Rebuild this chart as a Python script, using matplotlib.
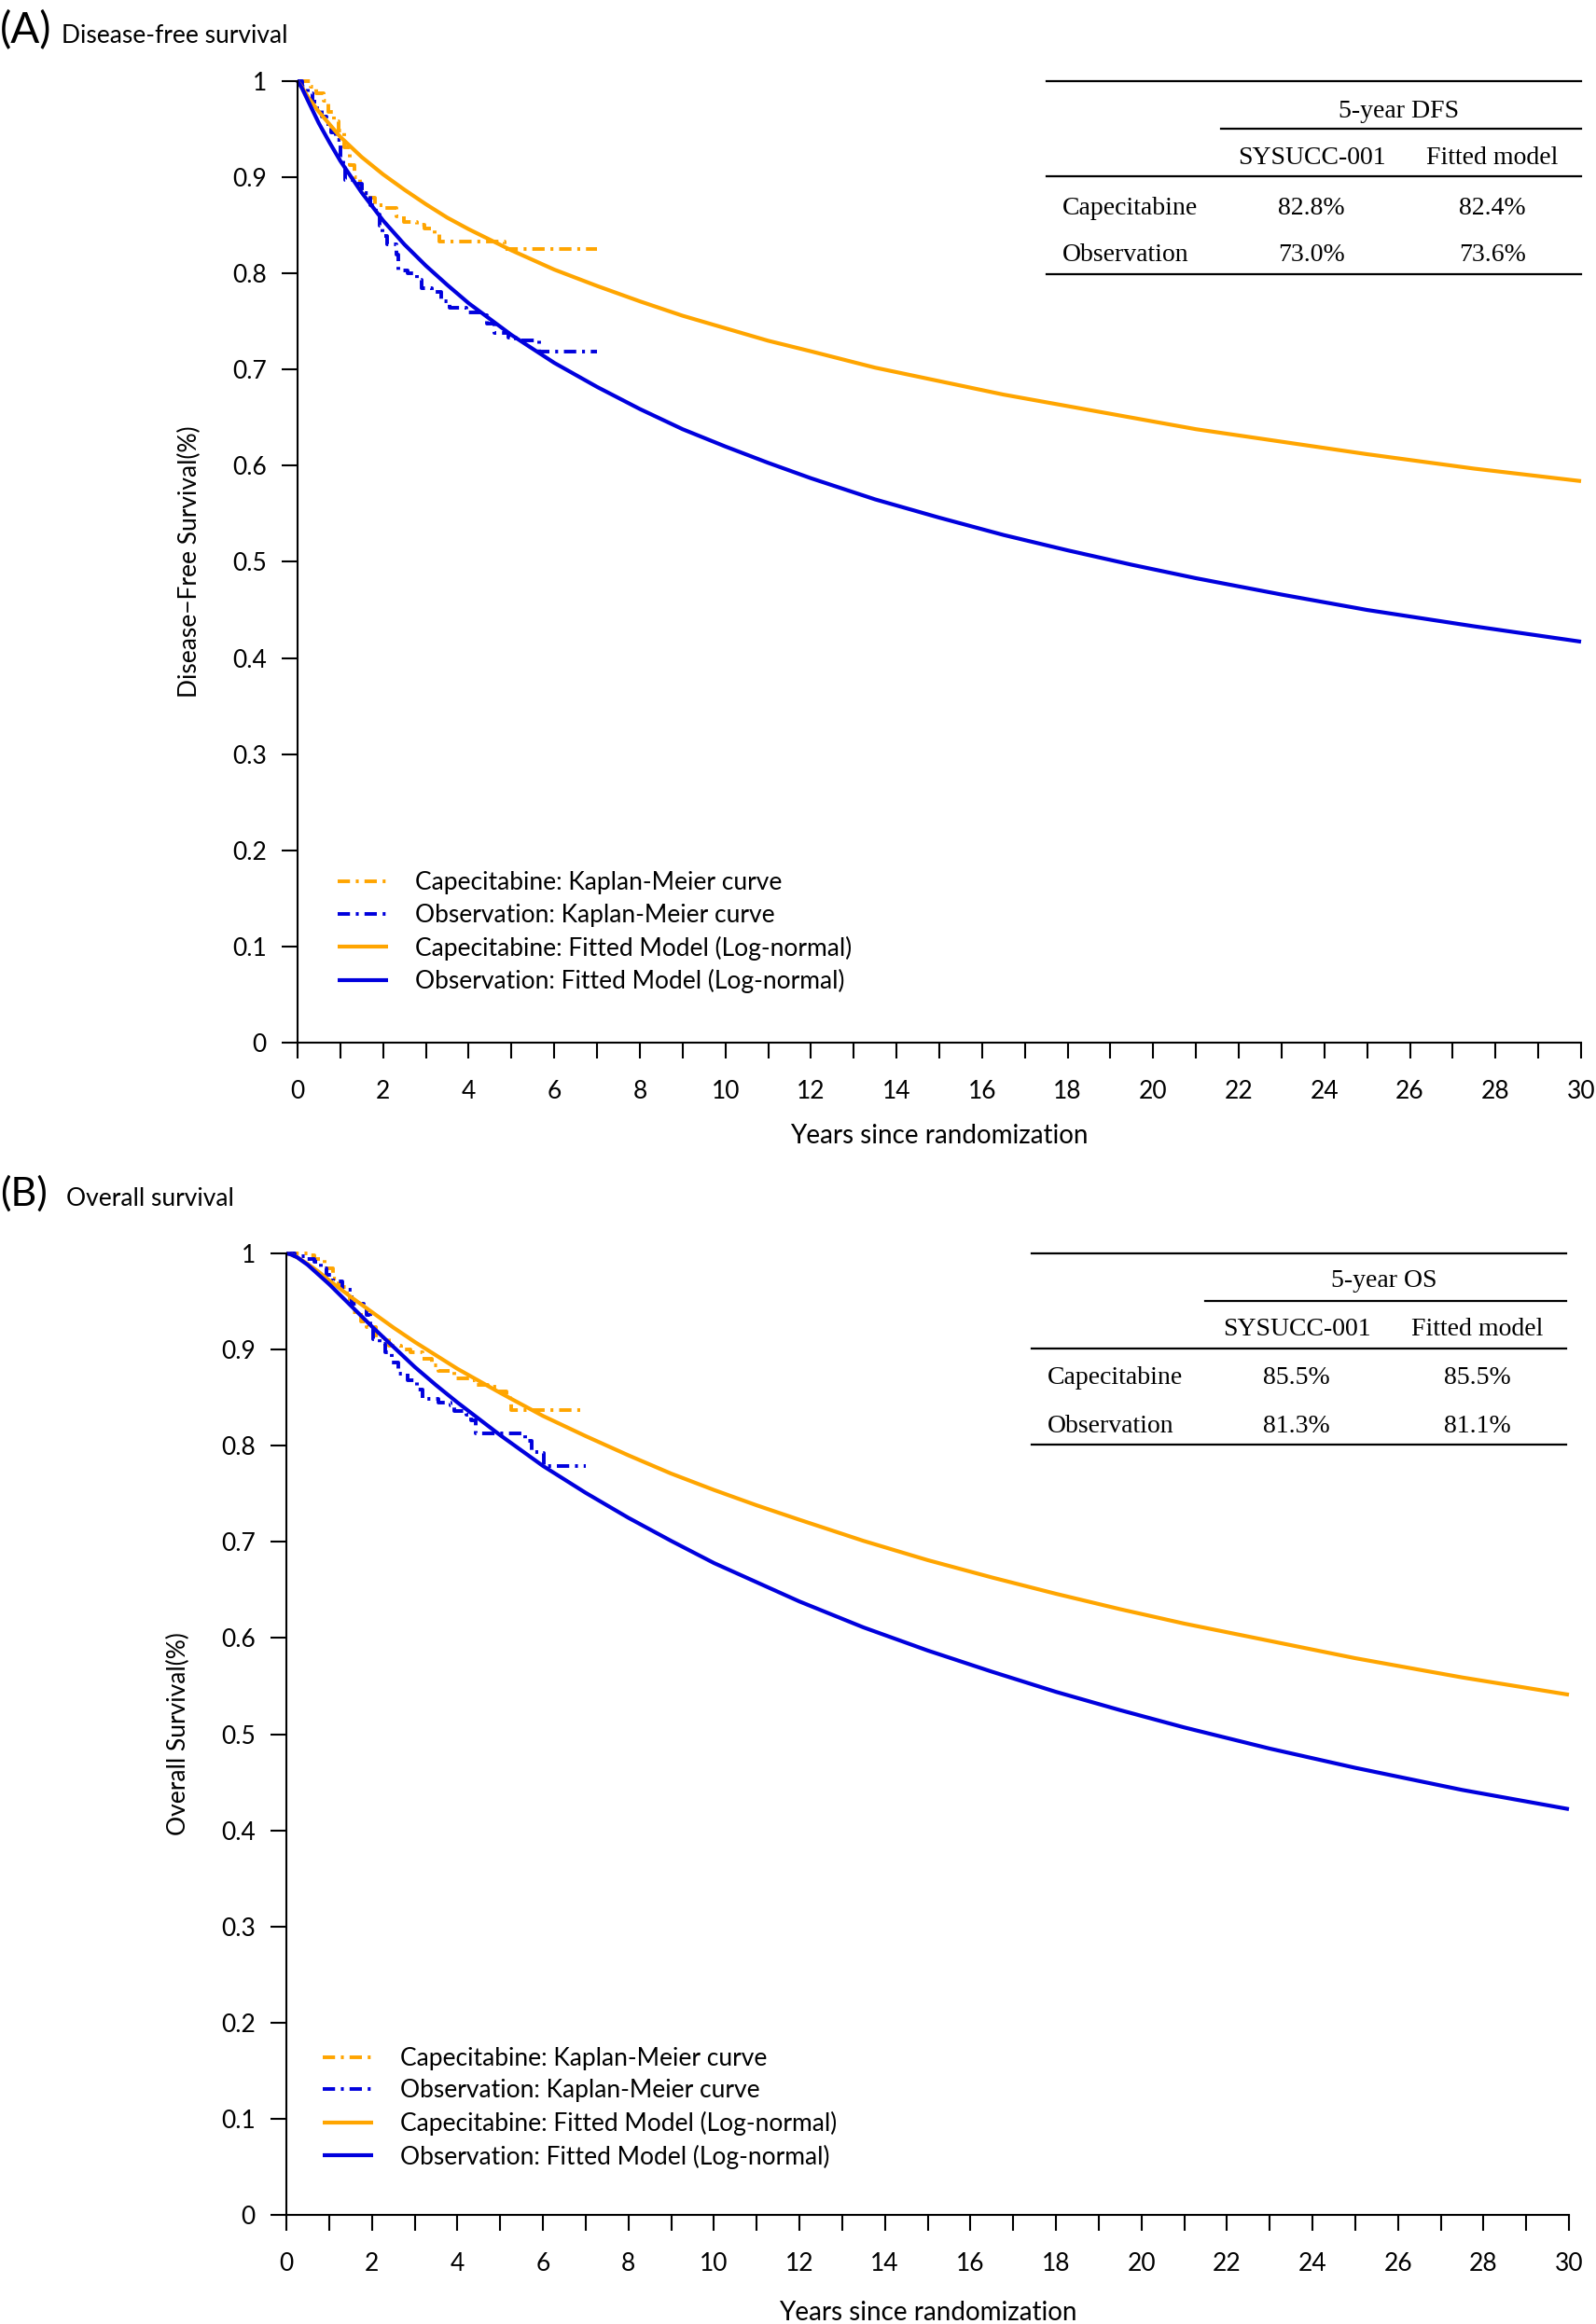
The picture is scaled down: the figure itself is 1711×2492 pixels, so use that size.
import matplotlib
matplotlib.use("Agg")
import matplotlib.pyplot as plt
from matplotlib.lines import Line2D
from matplotlib.ticker import MultipleLocator, FixedLocator

# ---------------- data ----------------
fit_years = [0, 0.1, 0.25, 0.5, 0.75, 1, 1.5, 2, 2.5, 3, 3.5, 4, 5, 6, 7, 8, 9, 10, 11, 12,
             13.5, 15, 16.5, 18, 19.5, 21, 23, 25, 27.5, 30]

dfs_cap_fit = [1, .994, .983, .968, .955, .942, .921, .903, .887, .872, .858, .846, .824, .804, .787, .771, .756, .743, .730, .719,
               .702, .688, .674, .662, .650, .638, .625, .612, .597, .584]
dfs_obs_fit = [1, .993, .979, .956, .936, .917, .884, .855, .830, .808, .788, .769, .736, .707, .682, .659, .638, .620, .603, .587,
               .565, .546, .528, .512, .497, .483, .466, .450, .433, .417]
os_cap_fit = [1, .999, .996, .989, .981, .972, .955, .939, .923, .908, .894, .880, .855, .831, .810, .790, .771, .754, .738, .723,
              .701, .681, .663, .646, .630, .615, .597, .579, .559, .541]
os_obs_fit = [1, .999, .996, .988, .978, .968, .946, .924, .903, .882, .863, .845, .811, .779, .751, .725, .701, .678, .658, .638,
              .611, .587, .565, .544, .525, .507, .485, .465, .442, .422]

dfs_cap_km_t = [0, 0.3, 0.43, 0.6, 0.73, 0.86, 0.95, 1.1, 1.22, 1.34, 1.45, 1.6, 1.8, 2.05, 2.32, 2.48, 2.8, 2.96, 3.2, 3.32, 4.85, 7.0]
dfs_cap_km_s = [1, 0.994, 0.987, 0.980, 0.968, 0.958, 0.949, 0.931, 0.913, 0.900, 0.888, 0.879, 0.871, 0.868, 0.859, 0.854, 0.851, 0.847, 0.841, 0.833, 0.825, 0.825]

dfs_obs_km_t = [0, 0.1, 0.24, 0.35, 0.46, 0.57, 0.68, 0.78, 0.89, 1.0, 1.07, 1.11, 1.4, 1.5, 1.7, 1.83, 1.92, 1.98, 2.09, 2.31, 2.35, 2.57, 2.79, 2.9, 3.14, 3.36, 3.55, 3.95, 4.31, 4.42, 4.6, 4.93, 5.1, 5.65, 7.0]
dfs_obs_km_s = [1, 0.994, 0.987, 0.979, 0.971, 0.963, 0.955, 0.947, 0.939, 0.920, 0.910, 0.897, 0.893, 0.884, 0.871, 0.861, 0.850, 0.839, 0.830, 0.820, 0.803, 0.800, 0.793, 0.785, 0.781, 0.771, 0.764, 0.759, 0.757, 0.748, 0.738, 0.733, 0.730, 0.719, 0.719]

os_cap_km_t = [0, 0.5, 0.65, 0.9, 1.08, 1.22, 1.41, 1.55, 1.74, 1.88, 2.1, 2.4, 2.69, 2.9, 3.19, 3.4, 3.56, 3.93, 4.28, 4.43, 4.72, 4.93, 5.15, 5.23, 5.26, 7.0]
os_cap_km_s = [1, 0.998, 0.994, 0.984, 0.974, 0.965, 0.952, 0.939, 0.929, 0.923, 0.913, 0.904, 0.900, 0.897, 0.890, 0.884, 0.878, 0.870, 0.868, 0.863, 0.861, 0.856, 0.853, 0.845, 0.837, 0.837]

os_obs_km_t = [0, 0.2, 0.43, 0.65, 0.8, 0.94, 1.09, 1.31, 1.52, 1.81, 1.88, 1.96, 2.03, 2.18, 2.31, 2.46, 2.61, 2.83, 3.05, 3.19, 3.55, 3.84, 3.92, 4.2, 4.32, 4.43, 5.59, 5.74, 6.0, 6.03, 7.0]
os_obs_km_s = [1, 0.997, 0.994, 0.991, 0.984, 0.978, 0.971, 0.962, 0.948, 0.947, 0.936, 0.923, 0.911, 0.906, 0.897, 0.887, 0.875, 0.868, 0.858, 0.849, 0.845, 0.842, 0.836, 0.832, 0.826, 0.813, 0.805, 0.793, 0.792, 0.779, 0.779]

legend_labels = ["Capecitabine: Kaplan-Meier curve",
                 "Observation: Kaplan-Meier curve",
                 "Capecitabine: Fitted Model (Log-normal)",
                 "Observation: Fitted Model (Log-normal)"]

x_ticks = list(range(0, 31, 2))
y_ticks = [0, 0.1, 0.2, 0.3, 0.4, 0.5, 0.6, 0.7, 0.8, 0.9, 1]
y_tick_labels = ["0", "0.1", "0.2", "0.3", "0.4", "0.5", "0.6", "0.7", "0.8", "0.9", "1"]

table_rows = ["Capecitabine", "Observation"]
table_cols = ["SYSUCC-001", "Fitted model"]
dfs_table = [["82.8%", "82.4%"], ["73.0%", "73.6%"]]
os_table = [["85.5%", "85.5%"], ["81.3%", "81.1%"]]

# ---------------- style ----------------
ORANGE = "#FFA500"
BLUE = "#0000DD"
SANS = ["Lato", "DejaVu Sans"]
SERIF = ["Liberation Serif", "DejaVu Serif"]
plt.rcParams["font.family"] = SANS

W, H = 1711, 2492
fig = plt.figure(figsize=(W / 100, H / 100), dpi=100)


def fx(x):
    return x / W


def fy(y):
    return 1 - y / H


def make_axes(left, right, top, bottom):
    return fig.add_axes([fx(left), fy(bottom), fx(right) - fx(left), fy(top) - fy(bottom)])


KM_LS = (0, (3.4, 1.6, 0.8, 1.6))


def draw_panel(ax, cap_km_t, cap_km_s, obs_km_t, obs_km_s, cap_fit, obs_fit, ylabel, xlabel_y):
    h1, = ax.plot(cap_km_t, cap_km_s, drawstyle="steps-post", color=ORANGE, lw=2.8, ls=KM_LS, clip_on=False)
    h2, = ax.plot(obs_km_t, obs_km_s, drawstyle="steps-post", color=BLUE, lw=2.8, ls=KM_LS, clip_on=False)
    h3, = ax.plot(fit_years, cap_fit, color=ORANGE, lw=3.0, clip_on=False, solid_capstyle="butt")
    h4, = ax.plot(fit_years, obs_fit, color=BLUE, lw=3.0, clip_on=False, solid_capstyle="butt")
    ax.set_xlim(0, 30)
    ax.set_ylim(0, 1)
    for s in ["top", "right"]:
        ax.spines[s].set_visible(False)
    for s in ["left", "bottom"]:
        ax.spines[s].set_linewidth(1.5)
    ax.xaxis.set_major_locator(FixedLocator(x_ticks))
    ax.xaxis.set_minor_locator(MultipleLocator(1))
    ax.set_yticks(y_ticks)
    ax.set_yticklabels(y_tick_labels)
    ax.tick_params(axis="x", which="both", direction="out", length=12, width=1.5, labelsize=19, pad=17)
    ax.tick_params(axis="y", which="both", direction="out", length=12, width=1.5, labelsize=19, pad=12)
    ax.set_xlabel("Years since randomization", fontsize=20)
    ax.xaxis.set_label_coords(0.5, xlabel_y)
    ax.xaxis.label.set_verticalalignment("center")
    ax.set_ylabel(ylabel, fontsize=19)
    ax.yaxis.set_label_coords(-0.0843, 0.5)
    ax.yaxis.label.set_verticalalignment("center")
    return [h1, h2, h3, h4]


def draw_table(left, right, mid_left, y_top, y_l2, y_l3, y_bot, title, title_x, y_title, y_head,
               col_x, row_x, row_y, values):
    lw = 1.6
    for (x0, x1, yy) in [(left, right, y_top), (mid_left, right, y_l2), (left, right, y_l3), (left, right, y_bot)]:
        fig.add_artist(Line2D([fx(x0), fx(x1)], [fy(yy), fy(yy)], color="black", lw=lw))
    off = 5
    kw = dict(family=SERIF, fontsize=20, va="center")
    fig.text(fx(title_x), fy(y_title + off), title, ha="center", **kw)
    for cx, c in zip(col_x, table_cols):
        fig.text(fx(cx), fy(y_head + off), c, ha="center", **kw)
    for ry, r, vals in zip(row_y, table_rows, values):
        fig.text(fx(row_x), fy(ry + off), r, ha="left", **kw)
        for cx, v in zip(col_x, vals):
            fig.text(fx(cx), fy(ry + off), v, ha="center", **kw)


LEG_KW = dict(loc="upper left", frameon=False, fontsize=19, handlelength=2.05, handletextpad=1.1,
              labelspacing=0.36, borderpad=0, borderaxespad=0)

# ---------------- panel A ----------------
axA = make_axes(319, 1695, 87, 1118)
hA = draw_panel(axA, dfs_cap_km_t, dfs_cap_km_s, dfs_obs_km_t, dfs_obs_km_s,
                dfs_cap_fit, dfs_obs_fit, "Disease\u2212Free Survival(%)", -0.097)
axA.legend(hA, legend_labels, bbox_to_anchor=(0.0313, 0.178), **LEG_KW)

fig.text(0.0, fy(46), "(A)", fontsize=33, va="baseline", ha="left")
fig.text(fx(66), fy(46), "Disease-free survival", fontsize=19, va="baseline", ha="left")

draw_table(1122, 1695, 1309, 87, 138, 189, 294, "5-year DFS", 1500, 114, 165,
           [1406, 1600], 1139, [218, 268], dfs_table)

# ---------------- panel B ----------------
axB = make_axes(307, 1682, 1344, 2375)
hB = draw_panel(axB, os_cap_km_t, os_cap_km_s, os_obs_km_t, os_obs_km_s,
                os_cap_fit, os_obs_fit, "Overall Survival(%)", -0.102)
axB.legend(hB, legend_labels, bbox_to_anchor=(0.0284, 0.1746), **LEG_KW)

fig.text(0.0, fy(1293), "(B)", fontsize=31, va="baseline", ha="left")
fig.text(fx(71), fy(1293), "Overall survival", fontsize=19, va="baseline", ha="left")

draw_table(1106, 1679, 1292, 1344, 1395, 1446, 1549, "5-year OS", 1484, 1369, 1421,
           [1390, 1584], 1123, [1473, 1524], os_table)

fig.savefig("out.png", dpi=100)
